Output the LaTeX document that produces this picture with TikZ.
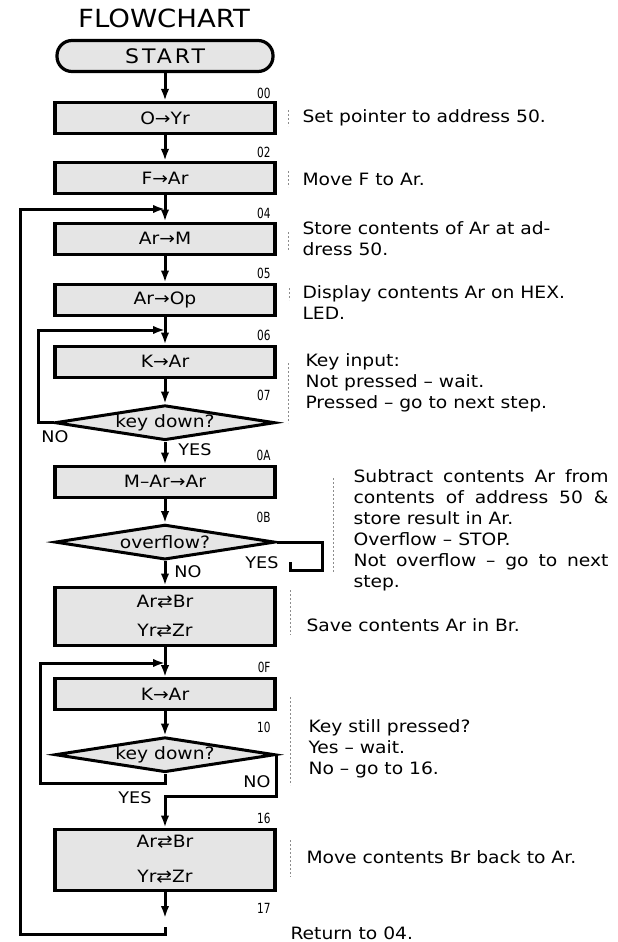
\documentclass[tikz,border=0pt]{standalone}
\usepackage{fontspec}
\setmainfont[FakeStretch=1.1]{DejaVu Sans}
\newfontfamily\numfont[FakeStretch=0.75]{DejaVu Sans}
\usetikzlibrary{arrows.meta,positioning,shapes.geometric}

\begin{document}
\begin{tikzpicture}[
    x=1pt, y=-1pt,
    >={Latex[length=12pt,width=8.5pt]},
    font=\fontsize{17}{21}\selectfont,
    box/.style={
        draw,
        line width=3.2pt,
        fill=black!10,
        minimum width=220pt,
        minimum height=31pt,
        inner sep=0pt,
        align=center
    },
    decision/.style={
        draw,
        diamond,
        line width=3pt,
        fill=black!10,
        aspect=6.3,
        minimum width=220pt,
        minimum height=35pt,
        inner sep=0pt
    },
    flow/.style={line width=3pt},
    num/.style={anchor=east, font=\numfont\fontsize{14}{14}\selectfont},
    note/.style={anchor=west, align=left},
    answer/.style={font=\fontsize{16}{16}\selectfont},
    sep/.style={black!45, line width=0.5pt, dash pattern=on 2pt off 2pt}
]
\useasboundingbox (0,0) rectangle (618,942);

\node[font=\fontsize{25}{25}\selectfont] (title) at (164,18) {FLOWCHART};
\node[box, rounded corners=15pt, minimum width=216pt,
      font=\fontsize{20}{20}\selectfont\addfontfeature{LetterSpace=15}] (start) at (165,56) {START};

% main chain
\node[box, below=27.8pt of start] (b00) {O→Yr};
\node[box, below=25.8pt of b00] (b02) {F→Ar};
\node[box, below=26.4pt of b02] (b04) {Ar→M};
\node[box, below=26.8pt of b04] (b05) {Ar→Op};
\node[box, below=27.8pt of b05] (b06) {K→Ar};
\node[decision, below=25pt of b06] (d07) {key down?};
\node[box, below=22.8pt of d07] (b0A) {M–Ar→Ar};
\node[decision, below=24.4pt of b0A] (d0B) {overflow?};
\node[box, below=24.4pt of d0B, minimum height=58pt, font=\fontsize{17}{29}\selectfont] (bAB) {Ar⇄Br\\Yr⇄Zr};
\node[box, below=30.4pt of bAB] (b0F) {K→Ar};
\node[decision, below=24.4pt of b0F] (d10) {key down?};
\node[box, below=53.8pt of d10, minimum height=61pt, font=\fontsize{17}{35}\selectfont] (b16) {Ar⇄Br\\Yr⇄Zr};

% addresses
\node[num] (n00) at (274,93) {00};
\node[num] (n02) at (274,152) {02};
\node[num] (n04) at (274,213) {04};
\node[num] (n05) at (274,273) {05};
\node[num] (n06) at (274,335) {06};
\node[num] (n07) at (274,395) {07};
\node[num] (n0A) at (274,455) {0A};
\node[num] (n0B) at (274,517) {0B};
\node[num] (n0F) at (274,667) {0F};
\node[num] (n10) at (274,727) {10};
\node[num] (n16) at (274,818) {16};
\node[num] (n17) at (274,908) {17};

% junctions
\coordinate (j04) at (165,209);
\coordinate (j06) at (165,330);
\coordinate (j0F) at (165,663);
\coordinate (l07) at (38,330);
\coordinate (s0B) at (322,570);
\coordinate (e0B) at (290,562);
\coordinate (l10) at (40,783);
\coordinate (n10j) at (165,796);
\coordinate (e17) at (165,918);
\coordinate (r17) at (165,927);
\coordinate (rb) at (20,934);

\draw[flow,->] (start) -- (b00);
\draw[flow,->] (b00) -- (b02);
\draw[flow,->] (b02) -- (b04);
\draw[flow,->] (b04) -- (b05);
\draw[flow,->] (b05) -- (b06);
\draw[flow,->] (b06) -- (d07);
\draw[flow,->] (d07) -- (b0A);
\draw[flow,->] (b0A) -- (d0B);
\draw[flow,->] (d0B) -- (bAB);
\draw[flow,->] (bAB) -- (b0F);
\draw[flow,->] (b0F) -- (d10);
\draw[flow,->] (b16) -- (e17);

\draw[flow,->] (d07.west) -| (l07) -- (j06);
\draw[flow] (d0B.east) -| (s0B) -| (e0B);
\draw[flow,->] (d10.south) |- (l10) |- (j0F);
\draw[flow,->] (d10.east) |- (n10j) -- (b16);
\draw[flow,->] (r17) |- (rb) |- (j04);

\node[answer] (no07) at (55,437) {NO};
\node[answer] (yes07) at (195,450) {YES};
\node[answer] (yes0B) at (262,563) {YES};
\node[answer] (no0B) at (188,572) {NO};
\node[answer] (no10) at (257,782) {NO};
\node[answer] (yes10) at (135,798) {YES};

% comments
\node[note] (t00) at (299,118) {Set pointer to address 50.};
\node[note] (t02) at (299,179) {Move F to Ar.};
\node[note] (t04) at (299,239) {Store contents of Ar at ad-\\dress 50.};
\node[note] (t05) at (299,303) {Display contents Ar on HEX.\\LED.};
\node[note] (t07) at (302,383) {Key input:\\Not pressed – wait.\\Pressed – go to next step.};
\node[note] (t0B) at (350,530) {\makebox[255pt][s]{Subtract contents Ar from}\\\makebox[255pt][s]{contents of address 50 \&}\\store result in Ar.\\Overflow – STOP.\\\makebox[255pt][s]{Not overflow – go to next}\\step.};
\node[note] (tAB) at (303,625) {Save contents Ar in Br.};
\node[note] (t10) at (305,749) {Key still pressed?\\Yes – wait.\\No – go to 16.};
\node[note] (t16) at (303,857) {Move contents Br back to Ar.};
\node[note] (t17) at (287,933) {Return to 04.};

\draw[sep] (288,110) -- (288,126);
\draw[sep] (288,171) -- (288,187);
\draw[sep] (288,232) -- (288,250);
\draw[sep] (289,288) -- (289,300);
\draw[sep] (288,363) -- (288,423);
\draw[sep] (333,478) -- (333,572);
\draw[sep] (290,590) -- (290,635);
\draw[sep] (290,697) -- (290,785);
\draw[sep] (290,840) -- (290,877);

\end{tikzpicture}
\end{document}
